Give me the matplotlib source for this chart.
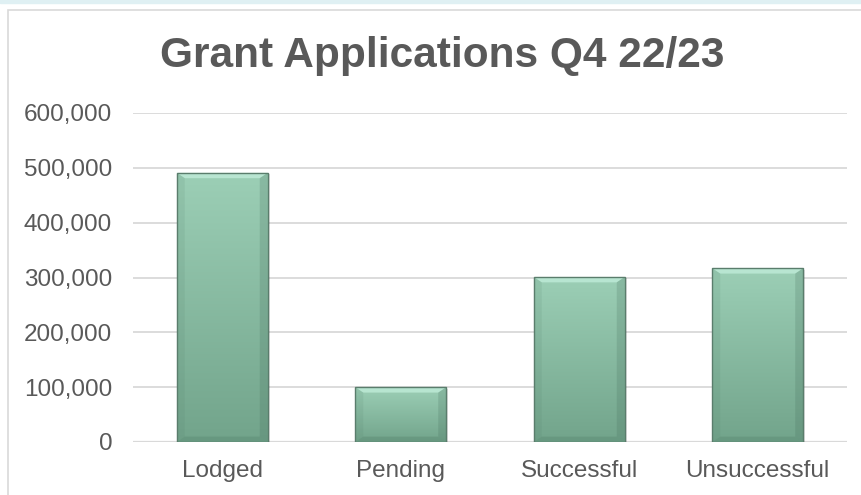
import numpy as np
import matplotlib
matplotlib.use("Agg")
import matplotlib.pyplot as plt
from matplotlib.patches import Rectangle, Polygon
from matplotlib.colors import LinearSegmentedColormap
from matplotlib.ticker import FuncFormatter

plt.rcParams["font.family"] = ["Liberation Sans", "DejaVu Sans"]

GREY = "#595959"
GRID = "#d9d9d9"

categories = ["Lodged", "Pending", "Successful", "Unsuccessful"]
values = [491000, 100000, 301000, 317000]
yticks = [0, 100000, 200000, 300000, 400000, 500000, 600000]

fig = plt.figure(figsize=(8.62, 4.95), dpi=100)
# light strip at top and chart frame
fig.patches.append(Rectangle((0, 0.993), 1, 0.007, transform=fig.transFigure,
                             color="#dff0f3", zorder=-10))
fig.patches.append(Rectangle((8 / 862, -0.1), 1.2, 1 - 10 / 495 + 0.1,
                             transform=fig.transFigure, facecolor="white",
                             edgecolor="#d9d9d9", lw=1.2, zorder=-10))

ax = fig.add_axes([133 / 862, 1 - 442 / 495, 714 / 862, 329 / 495])
ax.set_facecolor("none")
ax.set_xlim(-0.5, len(categories) - 0.5)
ax.set_ylim(0, 600000)
ax.set_yticks(yticks)
ax.yaxis.set_major_formatter(FuncFormatter(lambda v, p: f"{int(v):,}"))
ax.grid(axis="y", color=GRID, lw=1.3, zorder=0)
ax.set_axisbelow(True)
for s in ax.spines.values():
    s.set_visible(False)
ax.axhline(0, color=GRID, lw=1.6, zorder=1)
ax.tick_params(length=0, labelsize=17.5, colors=GREY)
ax.tick_params(axis="y", pad=15)
ax.tick_params(axis="x", pad=13)
ax.set_xticks(range(len(categories)))
ax.set_xticklabels(categories)

cmap = LinearSegmentedColormap.from_list("g", ["#72a48b", "#9ccfb6"])
grad = np.linspace(0, 1, 256).reshape(-1, 1)
w = 0.51
bx = 8 / 178          # bevel width in data units
by = 9 / 548.3 * 600000  # bevel height in data units
for i, v in enumerate(values):
    x0, x1 = i - w / 2, i + w / 2
    # shadow
    ax.add_patch(Rectangle((x0 + 0.012, -2500), w, v, facecolor="#000000",
                           alpha=0.12, lw=0, zorder=2))
    rect = Rectangle((x0, 0), w, v, facecolor="none", edgecolor="#5a7d6c",
                     lw=1.0, zorder=4)
    ax.add_patch(rect)
    im = ax.imshow(grad, cmap=cmap, origin="lower", extent=[x0, x1, 0, v],
                   aspect="auto", zorder=3)
    im.set_clip_path(rect)
    # bevel
    ax.add_patch(Polygon([[x0, v], [x1, v], [x1 - bx, v - by], [x0 + bx, v - by]],
                         facecolor="#c2eedb", alpha=0.75, lw=0, zorder=3.5))
    ax.add_patch(Polygon([[x0, 0], [x1, 0], [x1 - bx, by], [x0 + bx, by]],
                         facecolor="#5b8a73", alpha=0.45, lw=0, zorder=3.5))
    ax.add_patch(Polygon([[x0, 0], [x0, v], [x0 + bx, v - by], [x0 + bx, by]],
                         facecolor="#4f7a66", alpha=0.12, lw=0, zorder=3.5))
    ax.add_patch(Polygon([[x1, 0], [x1, v], [x1 - bx, v - by], [x1 - bx, by]],
                         facecolor="#3f6655", alpha=0.2, lw=0, zorder=3.5))

fig.text(442 / 862, 1 - 56 / 495, "Grant Applications Q4 22/23", ha="center",
         va="center", fontsize=30.5, fontweight="bold", color=GREY)

fig.savefig("out.png", dpi=100)
